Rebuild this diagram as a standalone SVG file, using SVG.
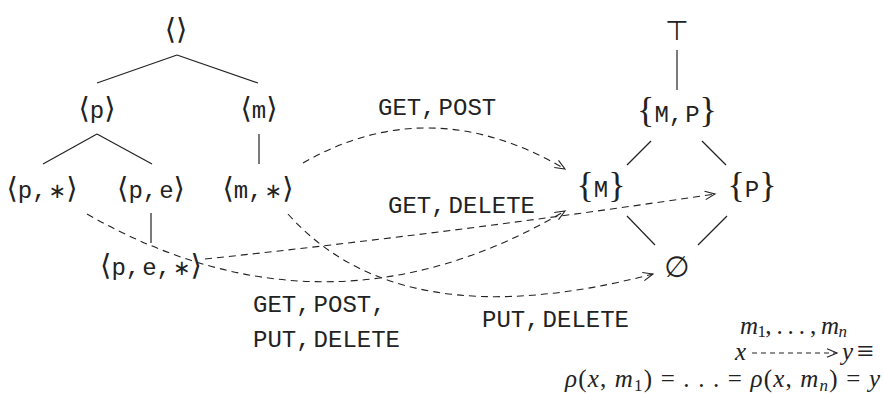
<svg xmlns="http://www.w3.org/2000/svg" width="883" height="394" viewBox="0 0 883 394">
<style>
text { fill: #222; }
.tt { font-family: "Liberation Mono", "DejaVu Sans Mono", monospace; font-size: 24px; }
.br { font-family: "DejaVu Sans", sans-serif; font-size: 29px; }
.st { font-family: "DejaVu Sans", sans-serif; font-size: 21px; }
.cb { font-family: "Liberation Serif", serif; font-size: 36px; }
.mi { font-family: "Liberation Serif", serif; font-size: 25px; font-style: italic; }
.mr { font-family: "Liberation Serif", serif; font-size: 25px; font-style: normal; }
.sub { font-size: 17px; }
.tree line { stroke: #222; stroke-width: 1.2; }
.dash { fill: none; stroke: #222; stroke-width: 1.1; stroke-dasharray: 7 5; marker-end: url(#ah); }
</style>
<defs>
<marker id="ah" markerUnits="userSpaceOnUse" markerWidth="14" markerHeight="12" viewBox="-11 -6 13 12" refX="0" refY="0" orient="auto">
<path d="M-10,-4.2 L0,0 L-10,4.2" fill="none" stroke="#222" stroke-width="1.1"/>
</marker>
</defs>

<g class="tree" id="tree-lines">
<line x1="177" y1="55" x2="97" y2="83"/>
<line x1="177" y1="55" x2="258" y2="83"/>
<line x1="97" y1="134" x2="43" y2="164"/>
<line x1="97" y1="134" x2="152" y2="164"/>
<line x1="259" y1="134" x2="259" y2="164"/>
<line x1="151" y1="213" x2="151" y2="243"/>
<line x1="677" y1="50" x2="677" y2="90"/>
<line x1="651" y1="141" x2="627" y2="165"/>
<line x1="702" y1="141" x2="726" y2="165"/>
<line x1="627" y1="216" x2="655" y2="245"/>
<line x1="727" y1="216" x2="698" y2="245"/>
</g>

<g id="connectors">
<path class="dash" d="M303,163 Q430,90 565,169"/>
<path class="dash" d="M205,259 Q460,232 715,194"/>
<path class="dash" d="M87,214 Q327,351 565,211"/>
<path class="dash" d="M288,214 Q400,340 653,274"/>
</g>

<g id="edge-labels">
<text class="tt" x="378" y="115">GET,<tspan dx="3">POST</tspan></text>
<text class="tt" x="388" y="213">GET,<tspan dx="3">DELETE</tspan></text>
<text class="tt" x="253" y="312">GET,<tspan dx="3">POST,</tspan></text>
<text class="tt" x="253" y="347">PUT,<tspan dx="3">DELETE</tspan></text>
<text class="tt" x="482" y="327">PUT,<tspan dx="3">DELETE</tspan></text>
</g>

<g id="n-root"><text class="br" x="176" y="39" text-anchor="middle">⟨⟩</text></g>
<g id="n-p"><text class="tt" x="97" y="118" text-anchor="middle"><tspan class="br">⟨</tspan>p<tspan class="br">⟩</tspan></text></g>
<g id="n-m"><text class="tt" x="259" y="118" text-anchor="middle"><tspan class="br">⟨</tspan>m<tspan class="br">⟩</tspan></text></g>
<g id="n-pstar"><text class="tt" x="42" y="198" text-anchor="middle"><tspan class="br">⟨</tspan>p,<tspan class="st" dx="2">∗</tspan><tspan class="br">⟩</tspan></text></g>
<g id="n-pe"><text class="tt" x="151" y="198" text-anchor="middle"><tspan class="br">⟨</tspan>p,<tspan dx="2">e</tspan><tspan class="br">⟩</tspan></text></g>
<g id="n-mstar"><text class="tt" x="258" y="198" text-anchor="middle"><tspan class="br">⟨</tspan>m,<tspan class="st" dx="2">∗</tspan><tspan class="br">⟩</tspan></text></g>
<g id="n-pestar"><text class="tt" x="151" y="275" text-anchor="middle"><tspan class="br">⟨</tspan>p,<tspan dx="2">e,</tspan><tspan class="st" dx="2">∗</tspan><tspan class="br">⟩</tspan></text></g>

<g id="n-top"><text x="677" y="40" text-anchor="middle" style="font-family:'DejaVu Sans',sans-serif;font-size:27px;fill:#222">⊤</text></g>
<g id="n-MP"><text class="tt" x="677" y="122" text-anchor="middle"><tspan class="cb">{</tspan>M,<tspan dx="2">P</tspan><tspan class="cb">}</tspan></text></g>
<g id="n-M"><text class="tt" x="601" y="197" text-anchor="middle"><tspan class="cb">{</tspan>M<tspan class="cb">}</tspan></text></g>
<g id="n-P"><text class="tt" x="752" y="197" text-anchor="middle"><tspan class="cb">{</tspan>P<tspan class="cb">}</tspan></text></g>
<g id="n-empty"><text class="br" x="677" y="277" text-anchor="middle" style="font-size:29px">∅</text></g>

<g id="legend">
<text class="mi" x="740" y="334" textLength="107" lengthAdjust="spacing">m<tspan class="mr sub" dy="3">1</tspan><tspan class="mr" dy="-3">, . . . , </tspan>m<tspan class="sub" dy="3">n</tspan></text>
<text class="mi" x="735" y="360">x</text>
<path class="dash" d="M752,353 L837,353" style="stroke-dasharray:5 4"/>
<text class="mi" x="842" y="360">y</text>
<text class="mr" x="857" y="361" style="font-size:30px">≡</text>
<text class="mi" x="565" y="387" textLength="315" lengthAdjust="spacing">ρ<tspan class="mr">(</tspan>x<tspan class="mr">, </tspan>m<tspan class="mr sub" dy="4">1</tspan><tspan class="mr" dy="-4">) = . . . = </tspan>ρ<tspan class="mr">(</tspan>x<tspan class="mr">, </tspan>m<tspan class="sub" dy="4">n</tspan><tspan class="mr" dy="-4">) = </tspan>y</text>
</g>
</svg>
